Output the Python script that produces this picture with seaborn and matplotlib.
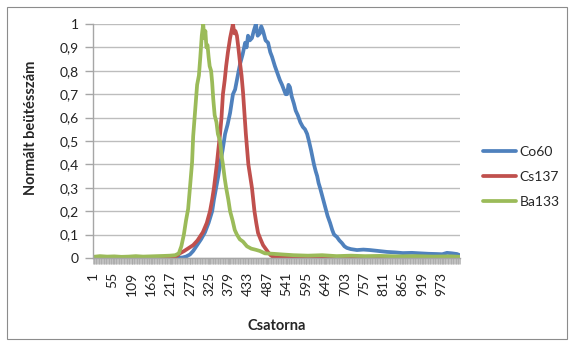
import matplotlib.pyplot as plt
import matplotlib.ticker as mticker
from matplotlib.patches import Rectangle
import seaborn as sns

# Channel axis: 1024 categories, every 54th labelled
N_CHANNELS = 1024
X_TICKS = list(range(1, N_CHANNELS, 54))
Y_TICKS = [i / 10 for i in range(11)]

# Values (normalised counts vs channel)
co60_ch = [1, 100, 200, 250, 260, 271, 280, 291, 302, 313, 323, 333, 338, 344,
           350, 355, 362, 369, 376, 383, 391, 397, 402, 407, 411, 418, 425, 429,
           433, 438, 444, 449, 455, 460, 466, 470, 475, 482, 489, 495, 500, 504,
           508, 515, 522, 528, 533, 538, 542, 546, 550, 555, 561, 566, 572, 579,
           586, 592, 598, 603, 609, 613, 617, 622, 626, 630, 634, 641, 648, 655,
           662, 668, 673, 677, 681, 688, 695, 702, 709, 720, 737, 755, 773, 797,
           821, 843, 865, 890, 913, 937, 960, 975, 988, 1002, 1016, 1024]
co60_val = [0, 0, 0, 0.002, 0.006, 0.015, 0.03, 0.055, 0.08, 0.11, 0.15, 0.2,
            0.25, 0.3, 0.35, 0.4, 0.46, 0.53, 0.57, 0.62, 0.70, 0.72, 0.76, 0.80,
            0.83, 0.87, 0.92, 0.90, 0.95, 0.93, 0.94, 0.97, 1.0, 0.95, 0.96, 0.99,
            0.97, 0.93, 0.92, 0.88, 0.86, 0.84, 0.82, 0.79, 0.76, 0.74, 0.72,
            0.70, 0.70, 0.74, 0.73, 0.69, 0.66, 0.63, 0.61, 0.58, 0.56, 0.55,
            0.53, 0.50, 0.46, 0.43, 0.40, 0.37, 0.35, 0.32, 0.30, 0.26, 0.22,
            0.18, 0.15, 0.12, 0.10, 0.095, 0.09, 0.075, 0.064, 0.05, 0.043,
            0.038, 0.034, 0.036, 0.034, 0.03, 0.026, 0.024, 0.021, 0.022, 0.02,
            0.018, 0.017, 0.016, 0.022, 0.02, 0.017, 0.012]

cs137_ch = [1, 100, 200, 224, 235, 243, 255, 265, 280, 292, 307, 318, 327, 333,
            338, 342, 346, 350, 355, 359, 363, 368, 372, 377, 383, 387, 391, 395,
            398, 402, 406, 411, 415, 419, 423, 427, 434, 439, 444, 451, 456, 461,
            468, 475, 482, 489, 496, 503, 520, 600, 700, 800, 900, 1024]
cs137_val = [0, 0, 0, 0.003, 0.01, 0.02, 0.03, 0.04, 0.055, 0.075, 0.11, 0.15,
             0.2, 0.25, 0.3, 0.35, 0.4, 0.46, 0.53, 0.6, 0.7, 0.76, 0.82, 0.88,
             0.94, 0.97, 1.0, 0.96, 0.97, 0.95, 0.90, 0.83, 0.78, 0.71, 0.62,
             0.53, 0.40, 0.35, 0.30, 0.20, 0.15, 0.107, 0.08, 0.055, 0.04, 0.025,
             0.012, 0.005, 0.002, 0.001, 0.001, 0.0, 0.001, 0.0]

ba133_ch = [1, 20, 40, 60, 80, 100, 120, 140, 160, 180, 200, 215, 230, 240, 247,
            254, 260, 266, 271, 277, 280, 285, 291, 296, 300, 304, 308, 311, 314,
            317, 320, 323, 326, 330, 333, 336, 340, 345, 349, 355, 360, 363, 368,
            372, 378, 383, 390, 396, 402, 410, 419, 430, 442, 455, 466, 480, 503,
            530, 560, 600, 640, 680, 720, 760, 800, 850, 900, 950, 1000, 1024]
ba133_val = [0.005, 0.008, 0.006, 0.007, 0.005, 0.006, 0.008, 0.006, 0.007,
             0.008, 0.009, 0.01, 0.012, 0.02, 0.05, 0.10, 0.16, 0.21, 0.30, 0.41,
             0.52, 0.62, 0.74, 0.78, 0.86, 0.95, 1.0, 0.94, 0.97, 0.90, 0.91,
             0.86, 0.82, 0.80, 0.75, 0.68, 0.61, 0.58, 0.53, 0.50, 0.43, 0.40,
             0.34, 0.30, 0.25, 0.20, 0.16, 0.12, 0.10, 0.08, 0.07, 0.05, 0.04,
             0.035, 0.03, 0.02, 0.018, 0.015, 0.012, 0.01, 0.012, 0.008, 0.01,
             0.008, 0.009, 0.007, 0.008, 0.006, 0.007, 0.005]

SERIES = [("Co60", co60_ch, co60_val, "#4F81BD"),
          ("Cs137", cs137_ch, cs137_val, "#C0504D"),
          ("Ba133", ba133_ch, ba133_val, "#9BBB59")]

sns.set_theme(style="white")
plt.rcParams["font.family"] = ["Lato", "DejaVu Sans"]

W, H = 570, 345
fig = plt.figure(figsize=(W / 100, H / 100), dpi=100)
ax = fig.add_axes([93 / W, 1 - 258 / H, 367 / W, 234 / H])

for name, ch, val, color in SERIES:
    sns.lineplot(x=ch, y=val, ax=ax, color=color, linewidth=2.7,
                 label=name, sort=False)

ax.set_xlim(0.5, N_CHANNELS + 0.5)
ax.set_ylim(0, 1)
ax.set_yticks(Y_TICKS)
ax.yaxis.set_major_formatter(
    mticker.FuncFormatter(lambda v, _: f"{v:g}".replace(".", ",")))
ax.set_xticks(X_TICKS)
ax.set_xticklabels([str(t) for t in X_TICKS], rotation=90)
ax.xaxis.set_minor_locator(mticker.MultipleLocator(2))

ax.grid(axis="y", color="#BDBDBD", linewidth=1.0)
ax.set_axisbelow(True)
for side in ("top", "right"):
    ax.spines[side].set_visible(False)
for side in ("left", "bottom"):
    ax.spines[side].set_color("#A6A6A6")
    ax.spines[side].set_linewidth(1.0)
ax.tick_params(axis="y", left=True, length=6, width=1.0, color="#A6A6A6",
               pad=4, labelsize=10, labelcolor="#222222")
ax.tick_params(axis="x", which="both", bottom=True, length=4, width=0.5,
               color="#A6A6A6", pad=6, labelsize=10, labelcolor="#222222")

ax.set_xlabel("Csatorna", fontsize=10.5, fontweight="bold")
ax.set_ylabel("Normált beütésszám", fontsize=10.5, fontweight="bold")
ax.xaxis.set_label_coords(0.501, -0.26)
ax.yaxis.set_label_coords(-0.15, 0.556)

ax.legend(loc="center left", bbox_to_anchor=(483 / W, 1 - 177 / H),
          bbox_transform=fig.transFigure, frameon=False, borderpad=0,
          borderaxespad=0, handlelength=2.4, handletextpad=0.25,
          labelspacing=0.95, fontsize=10)

# outer chart border
fig.patches.append(Rectangle((7 / W, 6 / H), 560 / W, 332 / H,
                             transform=fig.transFigure, fill=False,
                             edgecolor="#8C8C8C", linewidth=0.8))

fig.savefig("out.png", dpi=100)
